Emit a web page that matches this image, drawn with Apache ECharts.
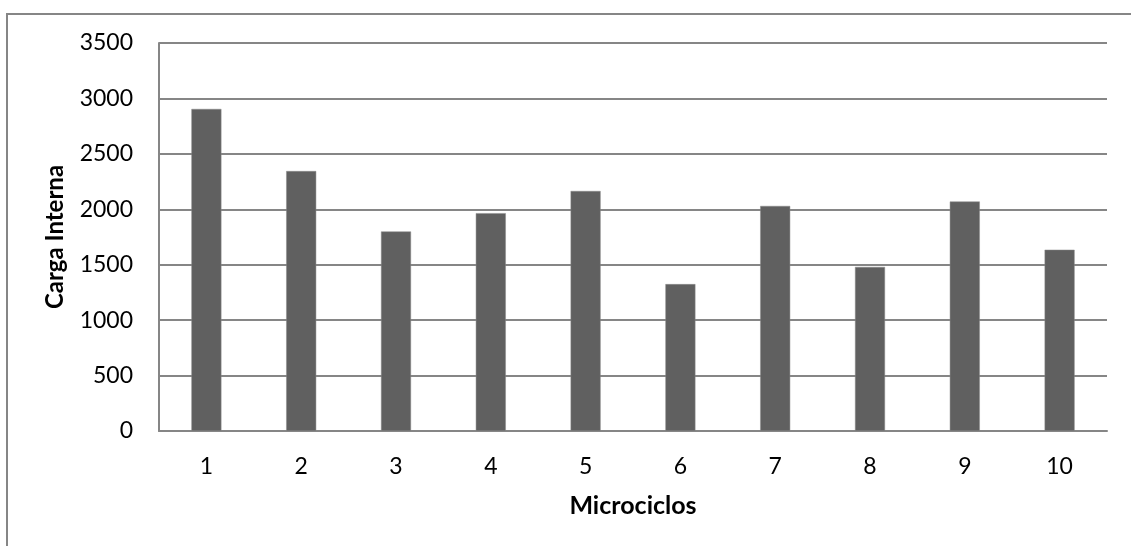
<!DOCTYPE html>
<html>
<head>
<meta charset="utf-8">
<script src="https://cdn.jsdelivr.net/npm/echarts@6/dist/echarts.min.js"></script>
<style>
html,body{margin:0;padding:0;background:#fff;}
#c{width:1131px;height:546px;}
</style>
</head>
<body>
<div id="c"></div>
<script>
var categories = ['1','2','3','4','5','6','7','8','9','10'];
var cargaInterna = [2905, 2345, 1800, 1965, 2165, 1325, 2030, 1480, 2070, 1635];
var yTicks = [0, 500, 1000, 1500, 2000, 2500, 3000, 3500];
var xTitle = 'Microciclos';
var yTitle = 'Carga Interna';

var chart = echarts.init(document.getElementById('c'), null, {renderer:'canvas'});
var FONT = 'Lato';
chart.setOption({
  animation: false,
  backgroundColor: '#ffffff',
  graphic: [{
    type: 'rect',
    shape: {x: 7, y: 14, width: 1140, height: 560},
    style: {fill: 'none', stroke: '#868686', lineWidth: 2},
    silent: true
  }],
  grid: {left: 159, right: 24, top: 43, bottom: 115, containLabel: false},
  xAxis: {
    type: 'category',
    data: categories,
    name: xTitle,
    nameLocation: 'middle',
    nameGap: 62,
    nameTextStyle: {fontFamily: FONT, fontSize: 25, fontWeight: 'bold', color: '#000'},
    axisLine: {show: true, lineStyle: {color: '#868686', width: 2}},
    axisTick: {show: false},
    axisLabel: {fontFamily: FONT, fontSize: 23, color: '#000', margin: 24},
    splitLine: {show: false}
  },
  yAxis: {
    type: 'value',
    min: yTicks[0],
    max: yTicks[yTicks.length - 1],
    interval: yTicks[1] - yTicks[0],
    name: yTitle,
    nameLocation: 'middle',
    nameGap: 92,
    nameRotate: 90,
    nameTextStyle: {fontFamily: FONT, fontSize: 24, fontWeight: 'bold', color: '#000'},
    axisLine: {show: true, lineStyle: {color: '#868686', width: 2}},
    axisTick: {show: false},
    axisLabel: {fontFamily: FONT, fontSize: 23, color: '#000', margin: 26,
      formatter: function (v) { return String(v); }},
    splitLine: {show: true, lineStyle: {color: '#868686', width: 2}}
  },
  series: [{
    type: 'bar',
    data: cargaInterna,
    barWidth: 30,
    itemStyle: {color: '#606060', borderColor: '#8a8a8a', borderWidth: 0.5}
  }]
});
</script>
</body>
</html>
